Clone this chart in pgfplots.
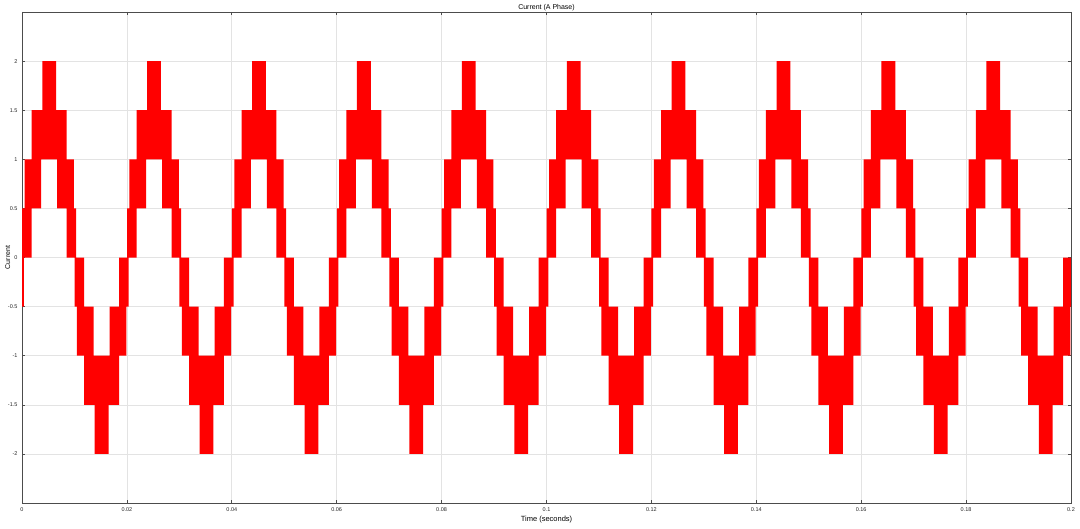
\documentclass[border=0pt]{standalone}
\usepackage{fontspec}
\setmainfont{Liberation Sans}
\usepackage{pgfplots}
\pgfplotsset{compat=1.18}
\usepackage{pgfplotstable}

% envelope of the switching current: t in ms, U = upper level, L = lower level
\pgfplotstableread{
t U L
0 0 -0.5
0.02 0.5 -0.5
0.34 0.5 0
0.48 1 0
1.85 1.5 0.5
3.66 1.5 1
3.87 2 1
6.50 1.5 1
6.71 1.5 0.5
8.51 1 0
9.89 0.5 0
10.02 0.5 -0.5
10.34 0 -0.5
10.48 0 -1
11.85 -0.5 -1.5
13.66 -1 -1.5
13.87 -1 -2
16.50 -1 -1.5
16.71 -0.5 -1.5
18.51 0 -1
19.89 0 -0.5
20.02 0.5 -0.5
20.34 0.5 0
20.48 1 0
21.85 1.5 0.5
23.66 1.5 1
23.87 2 1
26.50 1.5 1
26.71 1.5 0.5
28.51 1 0
29.89 0.5 0
30.02 0.5 -0.5
30.34 0 -0.5
30.48 0 -1
31.85 -0.5 -1.5
33.66 -1 -1.5
33.87 -1 -2
36.50 -1 -1.5
36.71 -0.5 -1.5
38.51 0 -1
39.89 0 -0.5
40.02 0.5 -0.5
40.34 0.5 0
40.48 1 0
41.85 1.5 0.5
43.66 1.5 1
43.87 2 1
46.50 1.5 1
46.71 1.5 0.5
48.51 1 0
49.89 0.5 0
50.02 0.5 -0.5
50.34 0 -0.5
50.48 0 -1
51.85 -0.5 -1.5
53.66 -1 -1.5
53.87 -1 -2
56.50 -1 -1.5
56.71 -0.5 -1.5
58.51 0 -1
59.89 0 -0.5
60.02 0.5 -0.5
60.34 0.5 0
60.48 1 0
61.85 1.5 0.5
63.66 1.5 1
63.87 2 1
66.50 1.5 1
66.71 1.5 0.5
68.51 1 0
69.89 0.5 0
70.02 0.5 -0.5
70.34 0 -0.5
70.48 0 -1
71.85 -0.5 -1.5
73.66 -1 -1.5
73.87 -1 -2
76.50 -1 -1.5
76.71 -0.5 -1.5
78.51 0 -1
79.89 0 -0.5
80.02 0.5 -0.5
80.34 0.5 0
80.48 1 0
81.85 1.5 0.5
83.66 1.5 1
83.87 2 1
86.50 1.5 1
86.71 1.5 0.5
88.51 1 0
89.89 0.5 0
90.02 0.5 -0.5
90.34 0 -0.5
90.48 0 -1
91.85 -0.5 -1.5
93.66 -1 -1.5
93.87 -1 -2
96.50 -1 -1.5
96.71 -0.5 -1.5
98.51 0 -1
99.89 0 -0.5
100.02 0.5 -0.5
100.34 0.5 0
100.48 1 0
101.85 1.5 0.5
103.66 1.5 1
103.87 2 1
106.50 1.5 1
106.71 1.5 0.5
108.51 1 0
109.89 0.5 0
110.02 0.5 -0.5
110.34 0 -0.5
110.48 0 -1
111.85 -0.5 -1.5
113.66 -1 -1.5
113.87 -1 -2
116.50 -1 -1.5
116.71 -0.5 -1.5
118.51 0 -1
119.89 0 -0.5
120.02 0.5 -0.5
120.34 0.5 0
120.48 1 0
121.85 1.5 0.5
123.66 1.5 1
123.87 2 1
126.50 1.5 1
126.71 1.5 0.5
128.51 1 0
129.89 0.5 0
130.02 0.5 -0.5
130.34 0 -0.5
130.48 0 -1
131.85 -0.5 -1.5
133.66 -1 -1.5
133.87 -1 -2
136.50 -1 -1.5
136.71 -0.5 -1.5
138.51 0 -1
139.89 0 -0.5
140.02 0.5 -0.5
140.34 0.5 0
140.48 1 0
141.85 1.5 0.5
143.66 1.5 1
143.87 2 1
146.50 1.5 1
146.71 1.5 0.5
148.51 1 0
149.89 0.5 0
150.02 0.5 -0.5
150.34 0 -0.5
150.48 0 -1
151.85 -0.5 -1.5
153.66 -1 -1.5
153.87 -1 -2
156.50 -1 -1.5
156.71 -0.5 -1.5
158.51 0 -1
159.89 0 -0.5
160.02 0.5 -0.5
160.34 0.5 0
160.48 1 0
161.85 1.5 0.5
163.66 1.5 1
163.87 2 1
166.50 1.5 1
166.71 1.5 0.5
168.51 1 0
169.89 0.5 0
170.02 0.5 -0.5
170.34 0 -0.5
170.48 0 -1
171.85 -0.5 -1.5
173.66 -1 -1.5
173.87 -1 -2
176.50 -1 -1.5
176.71 -0.5 -1.5
178.51 0 -1
179.89 0 -0.5
180.02 0.5 -0.5
180.34 0.5 0
180.48 1 0
181.85 1.5 0.5
183.66 1.5 1
183.87 2 1
186.50 1.5 1
186.71 1.5 0.5
188.51 1 0
189.89 0.5 0
190.02 0.5 -0.5
190.34 0 -0.5
190.48 0 -1
191.85 -0.5 -1.5
193.66 -1 -1.5
193.87 -1 -2
196.50 -1 -1.5
196.71 -0.5 -1.5
198.51 0 -1
199.89 0 -0.5
200 0 -0.5
}\wave

\begin{document}
\begin{tikzpicture}
\useasboundingbox (0,0) rectangle (1080pt,528pt);
\begin{axis}[
  at={(22pt,25pt)}, anchor=south west,
  scale only axis, width=1049pt, height=491pt,
  xmin=0, xmax=200, ymin=-2.5, ymax=2.5,
  stack plots=y,
  xtick={0,20,...,200},
  xticklabels={0,0.02,0.04,0.06,0.08,0.1,0.12,0.14,0.16,0.18,0.2},
  ytick={-2,-1.5,-1,-0.5,0,0.5,1,1.5,2},
  yticklabels={-2,-1.5,-1,-0.5,0,0.5,1,1.5,2},
  grid=major,
  major grid style={gray!22, line width=0.6pt},
  axis line style={gray!60!black, line width=0.7pt},
  tick style={gray!60!black, line width=0.6pt},
  tick align=inside, major tick length=3pt,
  ticklabel style={font=\fontsize{5.5}{6}\selectfont, text=black!85},
  xticklabel style={yshift=-1pt},
  yticklabel style={xshift=-1pt},
  title={Current (A Phase)},
  title style={font=\fontsize{7}{8}\selectfont, at={(axis description cs:0.5,1)}, anchor=base, yshift=-3.5pt, inner sep=0pt},
  xlabel={Time (seconds)},
  ylabel={Current},
  xlabel style={font=\fontsize{7.5}{8}\selectfont, at={(axis description cs:0.5,-0.033)}, anchor=center},
  ylabel style={font=\fontsize{7}{8}\selectfont, at={(axis description cs:-0.0135,0.5)}, anchor=center},
]
\addplot[draw=none, const plot] table[x=t, y=L]{\wave};
\addplot[draw=none, fill=red, const plot] table[x=t, y expr=\thisrow{U}-\thisrow{L}]{\wave} \closedcycle;
\end{axis}
\end{tikzpicture}
\end{document}
